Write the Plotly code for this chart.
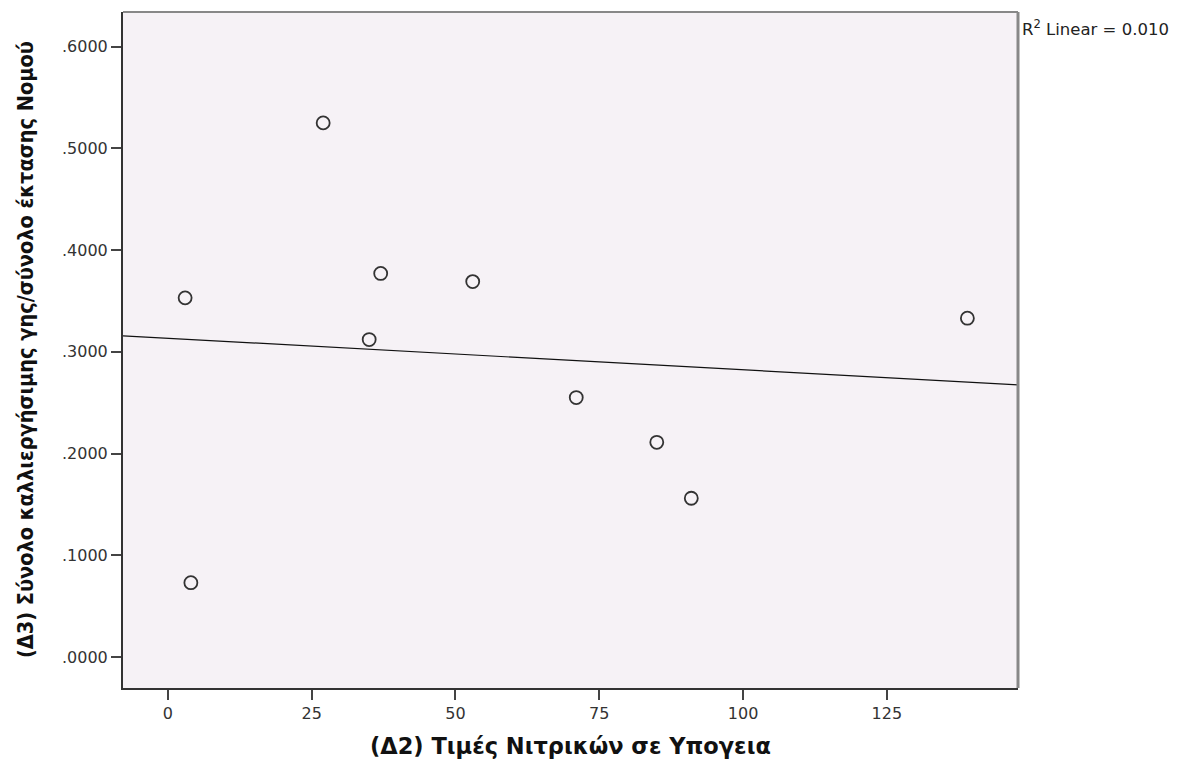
import numpy as np
import plotly.graph_objects as go

# Data
nitrates = [3, 4, 27, 35, 37, 53, 71, 85, 91, 139]
cultivable_ratio = [0.353, 0.073, 0.525, 0.312, 0.377, 0.369, 0.255, 0.211, 0.156, 0.333]
x_ticks = [0, 25, 50, 75, 100, 125]
y_ticks = [0.0, 0.1, 0.2, 0.3, 0.4, 0.5, 0.6]
y_tick_labels = [".0000", ".1000", ".2000", ".3000", ".4000", ".5000", ".6000"]
r2_text = "R<sup>2</sup> Linear = 0.010"

x_range = [-7.8, 147.8]
y_range = [-0.0305, 0.634]

slope, intercept = np.polyfit(nitrates, cultivable_ratio, 1)
fit_x = np.array(x_range)
fit_y = slope * fit_x + intercept

fig = go.Figure()
fig.add_trace(go.Scatter(
    x=fit_x, y=fit_y, mode="lines",
    line=dict(color="#111111", width=1.2), hoverinfo="skip", showlegend=False,
))
fig.add_trace(go.Scatter(
    x=nitrates, y=cultivable_ratio, mode="markers",
    marker=dict(symbol="circle-open", size=13, color="#333333", line=dict(width=1.8, color="#333333")),
    showlegend=False,
))

tick_font = dict(family="DejaVu Sans", size=16, color="#333333")
fig.update_xaxes(
    range=x_range, tickvals=x_ticks, ticktext=[str(v) for v in x_ticks],
    showgrid=False, zeroline=False, showline=True, linecolor="#333333", linewidth=2,
    ticks="outside", ticklen=10, tickwidth=2, tickcolor="#444444", tickfont=tick_font,
)
fig.update_yaxes(
    range=y_range, tickvals=y_ticks, ticktext=y_tick_labels,
    showgrid=False, zeroline=False, showline=True, linecolor="#333333", linewidth=2,
    ticks="outside", ticklen=10, tickwidth=2, tickcolor="#444444", tickfont=tick_font,
)

# top and right frame in gray
fig.add_shape(type="line", xref="paper", yref="paper", x0=0, x1=1, y0=1, y1=1,
              line=dict(color="#888888", width=2))
fig.add_shape(type="line", xref="paper", yref="paper", x0=1, x1=1, y0=0, y1=1,
              line=dict(color="#888888", width=3))

fig.add_annotation(
    text=r2_text, xref="paper", yref="paper", x=1.002, y=1.0, xanchor="left", yanchor="top",
    yshift=-3, showarrow=False, font=dict(family="DejaVu Sans", size=16.5, color="#222222"),
)
fig.add_annotation(
    text="(Δ2) Τιμές Νιτρικών σε Υπογεια", xref="paper", yref="paper",
    x=0.5, y=0, yshift=-58, xanchor="center", yanchor="middle", showarrow=False,
    font=dict(family="DejaVu Sans", size=22.5, color="#111111", weight="bold"),
)
fig.add_annotation(
    text="(Δ3) Σύνολο καλλιεργήσιμης γης/σύνολο έκτασης Νομού", xref="paper", yref="paper",
    x=0, xshift=-98, y=0.5, xanchor="center", yanchor="middle", textangle=-90, showarrow=False,
    font=dict(family="DejaVu Sans Condensed, DejaVu Sans", size=21.5, color="#111111", weight="bold"),
)

fig.update_layout(
    width=1183, height=752,
    margin=dict(l=115, r=173, t=4, b=72),
    paper_bgcolor="white", plot_bgcolor="#F6F2F6",
)
fig.write_html("out.html")
